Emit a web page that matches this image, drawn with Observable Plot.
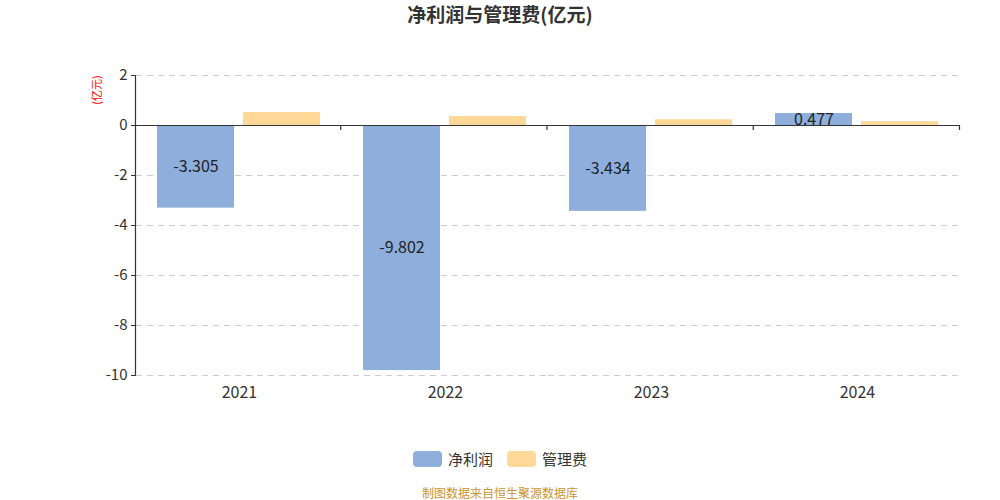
<!DOCTYPE html>
<html>
<head>
<meta charset="utf-8">
<script src="https://cdn.jsdelivr.net/npm/d3@7"></script>
<script src="https://cdn.jsdelivr.net/npm/@observablehq/plot@0.6"></script>
<style>
  body { margin: 0; background: #fff; font-family: "Noto Sans CJK SC", "Noto Sans", sans-serif; }
  #wrap { width: 1000px; height: 500px; position: relative; overflow: hidden; }
  #title { height: 30px; line-height: 28px; text-align: center; font-size: 19px; font-weight: bold; color: #333; }
  #legend { position: absolute; top: 448px; left: 0; width: 1000px; display: flex; justify-content: center; gap: 14px; font-size: 15px; color: #333; }
  #legend .item { display: flex; align-items: center; gap: 6px; }
  #legend .sw { width: 29px; height: 16px; border-radius: 4px; display: inline-block; }
  #caption { position: absolute; top: 484px; left: 0; width: 1000px; text-align: center; font-size: 12px; color: #c8952e; }
  #ylabel { position: absolute; left: 96px; top: 90px; transform: translate(-50%, -50%) rotate(-90deg); font-size: 11px; color: #f00; white-space: nowrap; }
</style>
</head>
<body>
<div id="wrap">
  <div id="title">净利润与管理费(亿元)</div>
  <div id="chart"></div>
  <div id="ylabel">(亿元)</div>
  <div id="legend"></div>
  <div id="caption">制图数据来自恒生聚源数据库</div>
</div>
<script>
const years = ["2021", "2022", "2023", "2024"];
const series = ["净利润", "管理费"];
const netProfit = [-3.305, -9.802, -3.434, 0.477];
const mgmtFee = [0.52, 0.36, 0.23, 0.15];
const colors = ["#8eaedb", "#fed896"];
const yTicks = [2, 0, -2, -4, -6, -8, -10];

const rows = [];
years.forEach((y, i) => {
  rows.push({year: y, series: series[0], value: netProfit[i]});
  rows.push({year: y, series: series[1], value: mgmtFee[i]});
});
const labelRows = rows.filter(d => d.series === series[0]);

const chart = Plot.plot({
  width: 1000,
  height: 400,
  marginLeft: 135,
  marginRight: 40,
  marginTop: 45,
  marginBottom: 55,
  style: {fontFamily: '"Noto Sans CJK SC", "Noto Sans", sans-serif', fontSize: "14px", color: "#333"},
  fx: {domain: years, padding: 0, label: null},
  x: {domain: series, paddingInner: 0.1, paddingOuter: 0.24, axis: null},
  y: {domain: [-10, 2], label: null},
  color: {domain: series, range: colors},
  marks: [
    Plot.gridY(yTicks.filter(v => v !== 0), {stroke: "#ccc", strokeOpacity: 1, strokeDasharray: "6,5"}),
    Plot.barY(rows, {fx: "year", x: "series", y: "value", fill: "series"}),
    Plot.text(labelRows, {fx: "year", x: "series", y: d => d.value / 2, text: d => String(d.value), fill: "#222", fontSize: 16}),
    Plot.ruleY([0], {stroke: "#333", strokeWidth: 1.2}),
    Plot.axisY({ticks: yTicks, tickSize: 5, tickPadding: 4, fontSize: 15, tickFormat: d => String(d), stroke: "#333"}),
    Plot.axisFx({anchor: "bottom", tickSize: 0, tickPadding: 11, fontSize: 16, label: null})
  ]
});
document.getElementById("chart").appendChild(chart);

// Axis line and category boundary ticks, positioned through Plot's own scales
const fxS = chart.scale("fx");
const yS = chart.scale("y");
const fxBand = d3.scaleBand(fxS.domain, fxS.range).paddingInner(fxS.paddingInner || 0).paddingOuter(fxS.paddingOuter || 0);
const yLin = d3.scaleLinear(yS.domain, yS.range);
const svg = d3.select(chart);
const g = svg.append("g").attr("stroke", "#333").attr("stroke-width", 1.2);
g.append("line")
  .attr("x1", fxBand.range()[0] + 0.5).attr("x2", fxBand.range()[0] + 0.5)
  .attr("y1", yLin(yS.domain[1])).attr("y2", yLin(yS.domain[0]));
years.forEach(y => {
  const xb = fxBand(y) + fxBand.bandwidth() - 0.5;
  g.append("line").attr("x1", xb).attr("x2", xb)
    .attr("y1", yLin(0)).attr("y2", yLin(0) + 5);
});

const legend = document.getElementById("legend");
series.forEach((s, i) => {
  const it = document.createElement("div");
  it.className = "item";
  const sw = document.createElement("span");
  sw.className = "sw";
  sw.style.background = colors[i];
  const t = document.createElement("span");
  t.textContent = s;
  it.appendChild(sw); it.appendChild(t);
  legend.appendChild(it);
});
</script>
</body>
</html>
